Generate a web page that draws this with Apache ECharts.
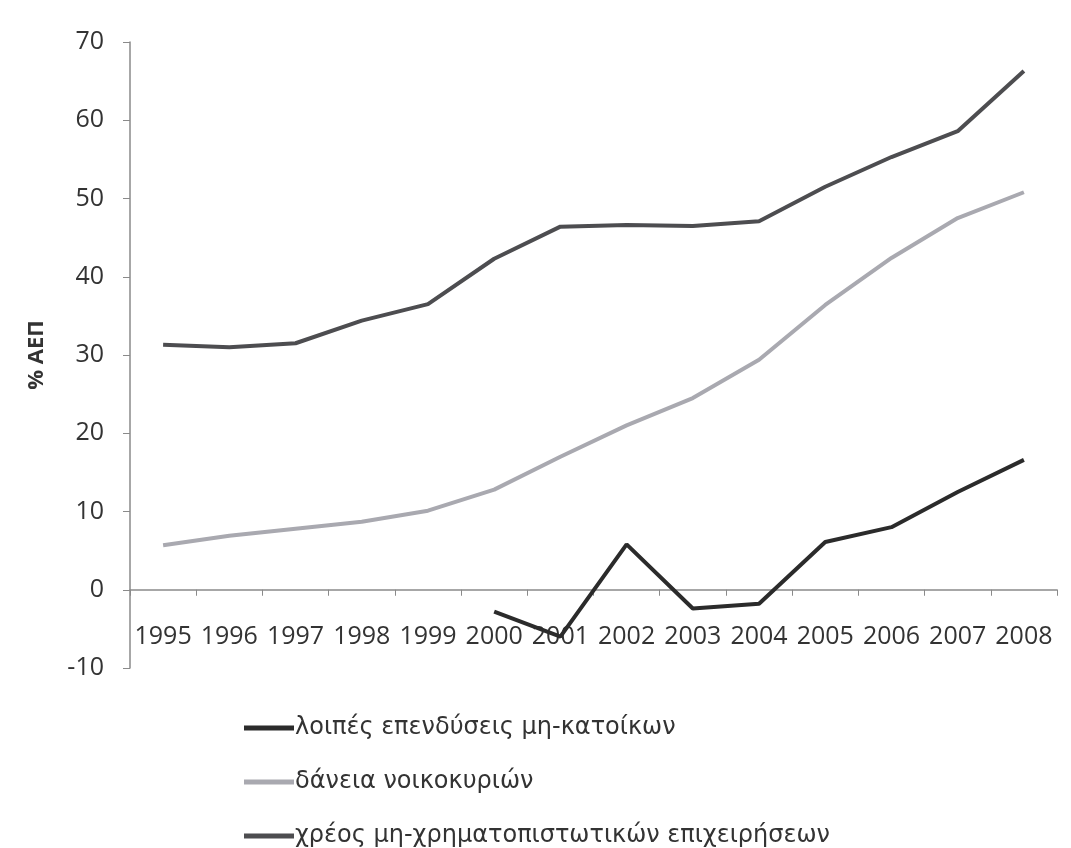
<!DOCTYPE html>
<html>
<head>
<meta charset="utf-8">
<script src="https://cdn.jsdelivr.net/npm/echarts@6/dist/echarts.min.js"></script>
<style>html,body{margin:0;padding:0;background:#fff;}#c{width:1071px;height:848px;}</style>
</head>
<body>
<div id="c"></div>
<script>
const years = ['1995','1996','1997','1998','1999','2000','2001','2002','2003','2004','2005','2006','2007','2008'];
const nameOther = 'λοιπές επενδύσεις μη-κατοίκων';
const nameHouse = 'δάνεια νοικοκυριών';
const nameCorp = 'χρέος μη-χρηματοπιστωτικών επιχειρήσεων';
const otherInv = [null, null, null, null, null, -2.8, -6.0, 5.8, -2.4, -1.8, 6.1, 8.0, 12.5, 16.6];
const houseLoans = [5.7, 6.9, 7.8, 8.7, 10.1, 12.8, 17.0, 21.0, 24.5, 29.4, 36.4, 42.4, 47.5, 50.8];
const corpDebt = [31.3, 31.0, 31.5, 34.4, 36.5, 42.3, 46.4, 46.6, 46.5, 47.1, 51.5, 55.3, 58.6, 66.3];
const yTicks = {min: -10, max: 70, interval: 10};

const chart = echarts.init(document.getElementById('c'));
const font = '"Open Sans", sans-serif';
chart.setOption({
  backgroundColor: '#ffffff',
  animation: false,
  grid: {left: 130, right: 14, top: 42, bottom: 180, containLabel: false},
  legend: {
    orient: 'vertical', left: 244, top: 716, height: 140, padding: 0, itemGap: 30,
    icon: 'rect', itemWidth: 50, itemHeight: 5,
    textStyle: {fontFamily: '"DejaVu Sans", sans-serif', fontSize: 24, color: '#333', padding: [0,0,0,-4]},
    data: [nameOther, nameHouse, nameCorp]
  },
  xAxis: {
    type: 'category', data: years, boundaryGap: true,
    axisLine: {onZero: true, lineStyle: {color: '#8a8a8a', width: 1.5}},
    axisTick: {show: true, length: 6, alignWithLabel: false, lineStyle: {color: '#8a8a8a'}},
    axisLabel: {fontFamily: font, fontSize: 25, color: '#333', margin: -44, interval: 0},
    splitLine: {show: false}
  },
  yAxis: {
    type: 'value', min: yTicks.min, max: yTicks.max, interval: yTicks.interval,
    name: '% ΑΕΠ', nameLocation: 'middle', nameGap: 82, nameRotate: 90,
    nameTextStyle: {fontFamily: font, fontSize: 22, fontWeight: 'bold', color: '#333'},
    axisLine: {show: true, lineStyle: {color: '#8a8a8a', width: 1.5}},
    axisTick: {show: true, length: 7, lineStyle: {color: '#8a8a8a'}},
    axisLabel: {fontFamily: font, fontSize: 25, color: '#333', margin: 26},
    splitLine: {show: false}
  },
  series: [
    {name: nameOther, type: 'line', data: otherInv, symbol: 'none', color: '#2b2b2b',
     lineStyle: {width: 4, color: '#2b2b2b'}},
    {name: nameHouse, type: 'line', data: houseLoans, symbol: 'none', color: '#a9a9b0',
     lineStyle: {width: 4, color: '#a9a9b0'}},
    {name: nameCorp, type: 'line', data: corpDebt, symbol: 'none', color: '#4d4d50',
     lineStyle: {width: 4, color: '#4d4d50'}}
  ]
});
</script>
</body>
</html>
